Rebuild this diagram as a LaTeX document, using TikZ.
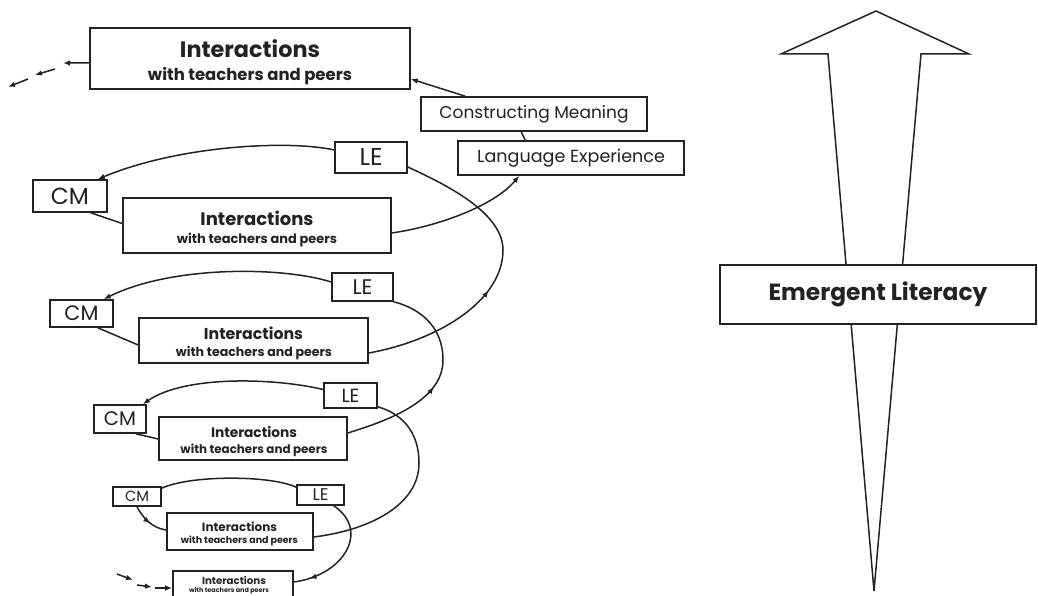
\documentclass[tikz,border=0pt]{standalone}
\usepackage{fontspec}
\setmainfont{Poppins}
\usepackage{graphicx}
\usetikzlibrary{arrows.meta,calc,decorations.markings}
\definecolor{ink}{HTML}{222222}
\newcommand{\fw}[2]{\resizebox{#1bp}{!}{#2}}
\tikzset{
  box/.style={draw=ink, line width=1.6bp, inner sep=0pt, rectangle, fill=white, text=ink},
  txt/.style={inner sep=0pt, anchor=base, text=ink},
  conn/.style={draw=ink, line width=1.5bp},
  arr/.style={conn, -{Latex[length=7bp,width=5.5bp]}},
  midarr/.style={conn, postaction={decorate}, decoration={markings, mark=at position #1 with {\arrow{Latex[length=7bp,width=5.5bp]}}}},
}
\begin{document}
\begin{tikzpicture}[x=1bp,y=-1bp]
\useasboundingbox (0,0) rectangle (1038,596);

% ---- right: emergent literacy arrow ----
\draw[conn, line join=miter] (876,11) -- (969,54) -- (921,54) -- (874,591) -- (828,54) -- (781,54) -- cycle;
\node[box, minimum width=316bp, minimum height=59bp] (EL) at (878,294.5) {\fw{219}{\bfseries Emergent Literacy}};

% ---- boxes ----
\node[box, minimum width=320bp, minimum height=61bp] (I0) at (250,58.5) {};
\node[txt] (I0a) at (250,58) {\fw{140}{\bfseries Interactions}};
\node[txt] (I0b) at (250,81) {\fw{204}{\bfseries with teachers and peers}};

\node[box, minimum width=226bp, minimum height=34bp] (CMb) at (534,114) {\fw{189}{Constructing Meaning}};
\node[box, minimum width=226bp, minimum height=34bp] (LEb) at (571,158) {\fw{188}{Language Experience}};

\node[box, minimum width=72bp, minimum height=31bp] (LE1) at (371,157.5) {\fw{23}{LE}};
\node[box, minimum width=74bp, minimum height=32bp] (CM1) at (70,196) {\fw{38}{CM}};
\node[box, minimum width=268bp, minimum height=55bp] (I1) at (257,225.5) {};
\node[txt] (I1a) at (257,226) {\fw{113}{\bfseries Interactions}};
\node[txt] (I1b) at (257,243.5) {\fw{160}{\bfseries with teachers and peers}};

\node[box, minimum width=61bp, minimum height=28bp] (LE2) at (362.5,287) {\fw{20}{LE}};
\node[box, minimum width=63bp, minimum height=27bp] (CM2) at (81.5,313.5) {\fw{34}{CM}};
\node[box, minimum width=229bp, minimum height=45bp] (I2) at (253.5,340.5) {};
\node[txt] (I2a) at (253.5,339) {\fw{99}{\bfseries Interactions}};
\node[txt] (I2b) at (254,356) {\fw{156}{\bfseries with teachers and peers}};

\node[box, minimum width=53bp, minimum height=25bp] (LE3) at (350.5,395.5) {\fw{18}{LE}};
\node[box, minimum width=52bp, minimum height=28bp] (CM3) at (120,419) {\fw{32}{CM}};
\node[box, minimum width=188bp, minimum height=43bp] (I3) at (253,438.5) {};
\node[txt] (I3a) at (254,437) {\fw{86}{\bfseries Interactions}};
\node[txt] (I3b) at (254,453) {\fw{147}{\bfseries with teachers and peers}};

\node[box, minimum width=47bp, minimum height=20bp] (LE4) at (320.5,495) {\fw{16}{LE}};
\node[box, minimum width=48bp, minimum height=19bp] (CM4) at (137,496.5) {\fw{24}{CM}};
\node[box, minimum width=146bp, minimum height=37bp] (I4) at (240,531.5) {};
\node[txt] (I4a) at (239.5,531) {\fw{75}{\bfseries Interactions}};
\node[txt] (I4b) at (239.5,543) {\fw{117}{\bfseries with teachers and peers}};

\node[box, minimum width=120bp, minimum height=38bp] (I5) at (233,590) {};
\node[txt] (I5a) at (234,584) {\fw{64}{\bfseries Interactions}};
\node[txt] (I5b) at (229,592) {\fw{80}{\bfseries with teachers and peers}};

% ---- free ends ----
\coordinate (o1) at (63,63);
\coordinate (o2a) at (55,69); \coordinate (o2b) at (35,75);
\coordinate (o3a) at (28,79); \coordinate (o3b) at (8,87);
\coordinate (u1a) at (117,574); \coordinate (u1b) at (133,580);
\coordinate (u2a) at (137,585); \coordinate (u2b) at (152,587);
\coordinate (u3a) at (155,588);

% ---- top connectors ----
\draw[arr] ($(I0.west)+(0,4.5)$) -- (o1);
\draw[arr] (o2a) -- (o2b);
\draw[arr] (o3a) -- (o3b);
\draw[arr] ($(CMb.north west)+(45,0)$) -- ($(I0.east)+(0,20.5)$);
\draw[conn] ($(CMb.south west)+(101,0)$) -- ($(LEb.north west)+(68,0)$);
\draw[arr] ($(I1.east)+(0,7.5)$) .. controls (440,226) and (495,205) .. ($(LEb.south west)+(62,0)$);

% ---- level 1 ----
\draw[arr] ($(LE1.west)+(0,-7.5)$) .. controls (290,140) and (180,145) .. ($(CM1.north east)+(-10,0)$);
\draw[conn] ($(CM1.south east)+(-17,0)$) -- ($(I1.west)+(0,-2)$);
\draw[midarr=0.44] ($(I2.east)+(0,12.5)$) .. controls (440,340) and (503,300) .. (503,250)
   .. controls (503,213) and (447,185) .. ($(LE1.east)+(0,9.5)$);

% ---- level 2 ----
\draw[arr] ($(LE2.west)+(0,-5)$) .. controls (280,266) and (170,266) .. ($(CM2.north east)+(-10,0)$);
\draw[conn] ($(CM2.south east)+(-16,0)$) -- ($(I2.west)+(0,4.5)$);
\draw[midarr=0.47] ($(I3.east)+(0,-5.5)$) .. controls (390,420) and (443,400) .. (443,360)
   .. controls (443,325) and (418,308) .. (LE2.south east);

% ---- level 3 ----
\draw[arr] ($(LE3.west)+(0,-6)$) .. controls (275,378) and (185,375) .. ($(CM3.north east)+(-4,0)$);
\draw[conn] ($(CM3.south east)+(-11,0)$) -- ($(I3.west)+(0,0.5)$);
\draw[conn] ($(I4.east)+(0,5.5)$) .. controls (370,530) and (419,505) .. (419,463)
   .. controls (419,430) and (400,413) .. ($(LE3.south east)+(0,-2)$);

% ---- level 4 ----
\draw[conn] ($(CM4.north east)+(0,2)$) .. controls (190,475) and (270,475) .. ($(LE4.north west)+(0,3)$);
\draw[midarr=0.55] (CM4.south) .. controls (143,518) and (152,528) .. ($(I4.west)+(0,-1.5)$);
\draw[midarr=0.86] ($(LE4.south east)+(-11,0)$) .. controls (370,530) and (345,575) .. ($(I5.east)+(0,-8)$);

% ---- bottom incoming ----
\draw[arr] (u1a) -- (u1b);
\draw[arr] (u2a) -- (u2b);
\draw[arr] (u3a) -- ($(I5.west)+(0,-2)$);
\end{tikzpicture}
\end{document}
